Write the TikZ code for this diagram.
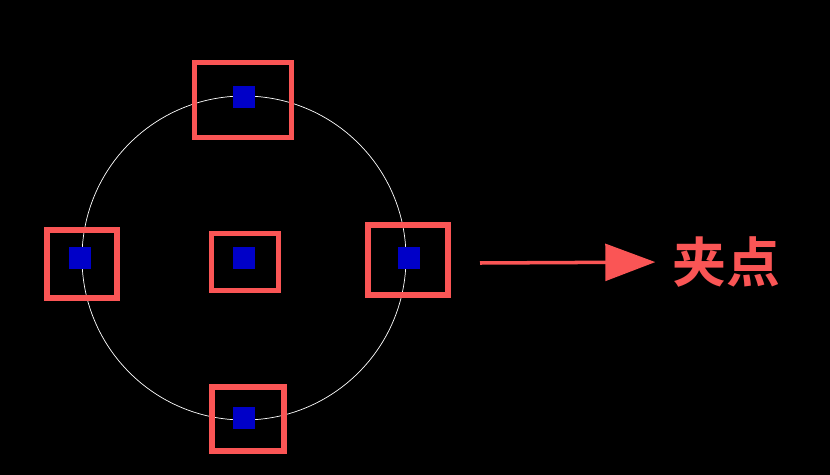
\documentclass[tikz,border=0pt]{standalone}
\usepackage{fontspec}
\newfontfamily\cjk{Noto Sans CJK SC}[BoldFont={Noto Sans CJK SC Bold}]
\usetikzlibrary{arrows.meta}
\definecolor{gripred}{RGB}{250,85,85}
\definecolor{gripblue}{RGB}{0,0,200}
\tikzset{
	grip/.style={fill=gripblue, minimum size=0.66cm, inner sep=0pt},
}
\begin{document}
\begin{tikzpicture}[x=0.03cm, y=-0.03cm]
	\fill[black] (0,0) rectangle (830,475);
	\node[circle, draw=white, line width=0.6pt, minimum size=9.72cm, inner sep=0pt] (circ) at (244,258) {};
	% grips: name/box centre/width/height/blue centre
	\foreach \name/\bx/\by/\bw/\bh/\gx/\gy in {
		top/243/100/2.91/2.25/244/97,
		left/82/264/2.10/2.04/80/258,
		mid/245/262/2.01/1.71/244/258,
		right/408/260/2.40/2.10/409/258,
		bottom/248/419/2.16/1.92/244/418
	}
	{
		\node[draw=gripred, line width=5pt, minimum width=\bw cm, minimum height=\bh cm, inner sep=0pt] (\name box) at (\bx,\by) {};
		\node[grip] (\name) at (\gx,\gy) {};
	}
	\node[text=gripred, font=\cjk\bfseries\fontsize{46}{46}\selectfont, inner sep=0pt, anchor=west] (label) at (672,262) {夹点};
	\coordinate (tail) at (480,263);
	\draw[gripred, line width=3pt, shorten >=0.5cm, -{Triangle[length=1.5cm, width=1.1cm]}] (tail) -- (label.west);
\end{tikzpicture}
\end{document}
